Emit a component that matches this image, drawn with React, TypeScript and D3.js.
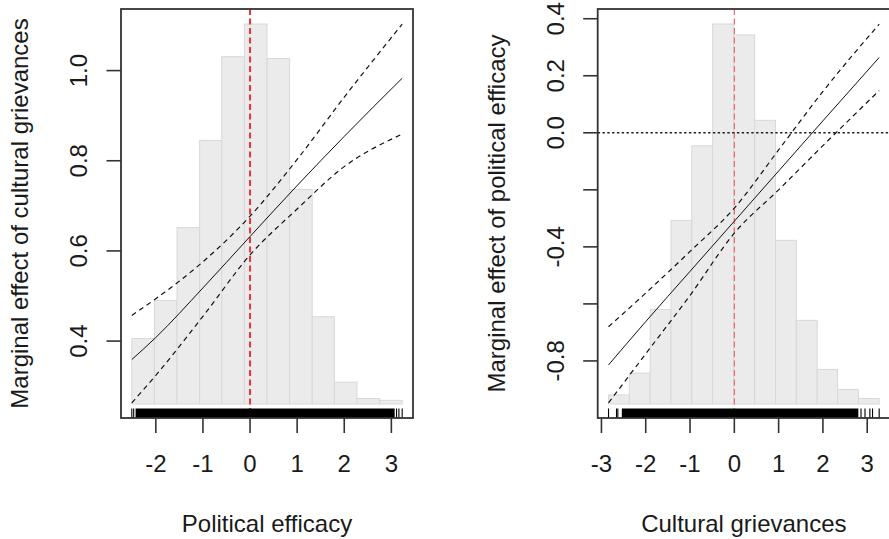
import React from 'react';
import * as d3 from 'd3';

// ---- left panel: marginal effect of cultural grievances over political efficacy
const leftGrid = [-2.51, -2, -1, 0, 1, 2, 3.23];
const leftEffect = [0.359, 0.408, 0.518, 0.632, 0.745, 0.854, 0.983];
const leftUpper = [0.457, 0.494, 0.576, 0.677, 0.803, 0.941, 1.103];
const leftLower = [0.263, 0.324, 0.455, 0.591, 0.693, 0.787, 0.859];
const leftBinEdges = [-2.51, -2.03, -1.55, -1.07, -0.6, -0.12, 0.36, 0.84, 1.32, 1.79, 2.27, 2.75, 3.23];
const leftBinCounts = [36, 57, 97, 145, 191, 209, 190, 118, 48, 12, 3, 2];
const leftRugDense = [-2.43, 3.07];
const leftRugSingles = [-2.51, -2.47, 3.11, 3.16, 3.23];
const leftXTicks = [-2, -1, 0, 1, 2, 3];
const leftYTicks = [0.4, 0.6, 0.8, 1.0];
const leftYLabels = [0.4, 0.6, 0.8, 1.0];

// ---- right panel: marginal effect of political efficacy over cultural grievances
const rightGrid = [-2.84, -2, -1, 0, 1, 2, 3.27];
const rightEffect = [-0.814, -0.662, -0.486, -0.31, -0.134, 0.042, 0.264];
const rightUpper = [-0.68, -0.562, -0.416, -0.264, -0.06, 0.145, 0.381];
const rightLower = [-0.947, -0.775, -0.57, -0.352, -0.2, -0.045, 0.148];
const rightBinEdges = [-2.84, -2.37, -1.9, -1.43, -0.96, -0.49, -0.01, 0.46, 0.93, 1.4, 1.87, 2.33, 2.8, 3.27];
const rightBinCounts = [5, 17, 52, 101, 142, 209, 203, 156, 90, 46, 19, 8, 3];
const rightRugDense = [-2.54, 2.8];
const rightRugSingles = [-2.84, -2.66, -2.63, 2.86, 2.95, 3.06, 3.12, 3.27];
const rightXTicks = [-3, -2, -1, 0, 1, 2, 3];
const rightYTicks = [-0.8, -0.6, -0.4, -0.2, 0.0, 0.2, 0.4];
const rightYLabels = [-0.8, -0.4, 0.0, 0.2, 0.4];

const FONT = "'Liberation Sans', Arial, sans-serif";

// R style axis limits: data range widened by 4% on each side
const extend = (lo: number, hi: number) => [lo - 0.04 * (hi - lo), hi + 0.04 * (hi - lo)];

type PanelProps = {
  box: { x0: number; x1: number; y0: number; y1: number };
  grid: number[];
  effect: number[];
  upper: number[];
  lower: number[];
  binEdges: number[];
  binCounts: number[];
  rugDense: number[];
  rugSingles: number[];
  xTicks: number[];
  yTicks: number[];
  yLabels: number[];
  xTitle: string;
  yTitle: string;
  zeroLine: boolean;
  redWidth: number;
  redColor: string;
};

const fmt = (v: number) => {
  const s = v.toFixed(1);
  return s === '-0.0' ? '0.0' : s;
};

const Panel = (p: PanelProps) => {
  const { x0, x1, y0, y1 } = p.box;
  const xs = d3.scaleLinear()
    .domain(extend(p.binEdges[0], p.binEdges[p.binEdges.length - 1]))
    .range([x0, x1]);
  const ys = d3.scaleLinear()
    .domain(extend(d3.min(p.lower) as number, d3.max(p.upper) as number))
    .range([y1, y0]);

  // histogram lives in its own band at the bottom of the plot region
  const hs = d3.scaleLinear()
    .domain([0, d3.max(p.binCounts) as number])
    .range([y1 - 14, y0 + 15]);

  const line = d3.line<number>()
    .x((_, i) => xs(p.grid[i]))
    .y((d) => ys(d))
    .curve(d3.curveMonotoneX);

  const rugTop = y1 - 9.5;
  const cx = (x0 + x1) / 2;
  const cy = (y0 + y1) / 2;

  return (
    <g fontFamily={FONT} fontSize={24} fill="#1a1a1a">
      <defs>
        <clipPath id={`clip${x0}`}>
          <rect x={x0} y={y0} width={x1 - x0} height={y1 - y0} />
        </clipPath>
      </defs>

      <g clipPath={`url(#clip${x0})`}>
        {/* histogram */}
        {p.binCounts.map((c, i) => (
          <rect
            key={'b' + i}
            x={xs(p.binEdges[i])}
            y={hs(c)}
            width={xs(p.binEdges[i + 1]) - xs(p.binEdges[i])}
            height={hs(0) - hs(c)}
            fill="#ebebeb"
            stroke="#d8d8d8"
            strokeWidth={1}
          />
        ))}

        {/* reference lines */}
        <line x1={xs(0)} x2={xs(0)} y1={y0} y2={y1}
          stroke={p.redColor} strokeWidth={p.redWidth} strokeDasharray="6,3.5" />
        {p.zeroLine && (
          <line x1={x0} x2={x1} y1={ys(0)} y2={ys(0)}
            stroke="#222" strokeWidth={1.4} strokeDasharray="2.4,2.4" />
        )}

        {/* marginal effect and confidence interval */}
        <path d={line(p.upper) || ''} fill="none" stroke="#111" strokeWidth={1.2} strokeDasharray="5,4" />
        <path d={line(p.lower) || ''} fill="none" stroke="#111" strokeWidth={1.2} strokeDasharray="5,4" />
        <path d={line(p.effect) || ''} fill="none" stroke="#111" strokeWidth={1} />

        {/* rug */}
        <rect x={xs(p.rugDense[0])} y={rugTop}
          width={xs(p.rugDense[1]) - xs(p.rugDense[0])} height={y1 - rugTop} fill="#000" />
        {p.rugSingles.map((v, i) => (
          <line key={'r' + i} x1={xs(v)} x2={xs(v)} y1={rugTop} y2={y1} stroke="#000" strokeWidth={1.1} />
        ))}
      </g>

      {/* box */}
      <rect x={x0} y={y0} width={x1 - x0} height={y1 - y0} fill="none" stroke="#333" strokeWidth={1.8} />

      {/* x axis */}
      {p.xTicks.map((t) => (
        <g key={'x' + t}>
          <line x1={xs(t)} x2={xs(t)} y1={y1} y2={y1 + 15} stroke="#333" strokeWidth={1.6} />
          <text x={xs(t)} y={y1 + 54} textAnchor="middle">{String(t)}</text>
        </g>
      ))}
      <text x={cx} y={y1 + 114} textAnchor="middle">{p.xTitle}</text>

      {/* y axis */}
      {p.yTicks.map((t) => (
        <line key={'y' + t} x1={x0 - 14.5} x2={x0} y1={ys(t)} y2={ys(t)} stroke="#333" strokeWidth={1.6} />
      ))}
      {p.yLabels.map((t) => (
        <text key={'yl' + t} transform={`translate(${x0 - 33.7},${ys(t)}) rotate(-90)`} textAnchor="middle">
          {fmt(t)}
        </text>
      ))}
      <text transform={`translate(${x0 - 92.7},${cy}) rotate(-90)`} textAnchor="middle">{p.yTitle}</text>
    </g>
  );
};

const App = () => {
  return (
    <svg width={889} height={539} style={{ position: 'absolute', left: 0, top: 0, background: '#fff' }}>
      <rect width={889} height={539} fill="#fff" />
      <Panel
        box={{ x0: 121, x1: 413, y0: 9, y1: 418 }}
        grid={leftGrid}
        effect={leftEffect}
        upper={leftUpper}
        lower={leftLower}
        binEdges={leftBinEdges}
        binCounts={leftBinCounts}
        rugDense={leftRugDense}
        rugSingles={leftRugSingles}
        xTicks={leftXTicks}
        yTicks={leftYTicks}
        yLabels={leftYLabels}
        xTitle="Political efficacy"
        yTitle="Marginal effect of cultural grievances"
        zeroLine={false}
        redWidth={2}
        redColor="#e8343c"
      />
      <Panel
        box={{ x0: 597.7, x1: 890, y0: 9, y1: 418 }}
        grid={rightGrid}
        effect={rightEffect}
        upper={rightUpper}
        lower={rightLower}
        binEdges={rightBinEdges}
        binCounts={rightBinCounts}
        rugDense={rightRugDense}
        rugSingles={rightRugSingles}
        xTicks={rightXTicks}
        yTicks={rightYTicks}
        yLabels={rightYLabels}
        xTitle="Cultural grievances"
        yTitle="Marginal effect of political efficacy"
        zeroLine={true}
        redWidth={1.1}
        redColor="#ee5a5f"
      />
    </svg>
  );
};

export default App;
